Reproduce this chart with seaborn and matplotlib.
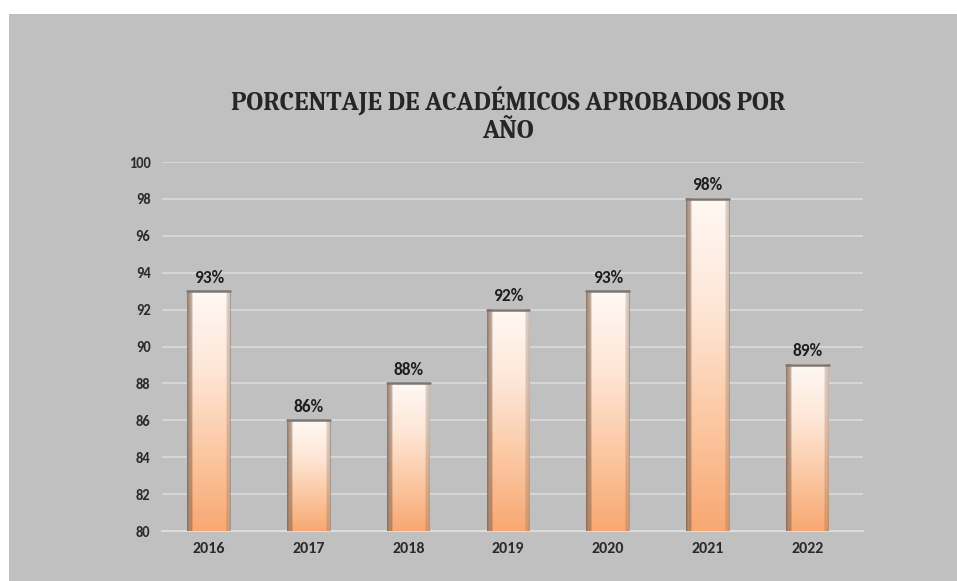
# gráfico de barras: porcentaje de académicos aprobados por año
import numpy as np
import pandas as pd
import matplotlib
matplotlib.use('Agg')
import matplotlib.pyplot as plt
import seaborn as sns

# datos
anios = ['2016', '2017', '2018', '2019', '2020', '2021', '2022']
porcentajes = [93, 86, 88, 92, 93, 98, 89]
etiquetas = ['93%', '86%', '88%', '92%', '93%', '98%', '89%']
y_ticks = [80, 82, 84, 86, 88, 90, 92, 94, 96, 98, 100]

df = pd.DataFrame({'anio': anios, 'pct': porcentajes})

sns.set_style('white')
fondo = '#c0c0c0'
y_min, y_max = 80, 100

fig = plt.figure(figsize=(9.57, 5.81), dpi=100, facecolor='white')
# recuadro gris del área del gráfico (margen blanco arriba e izquierda)
fig.patches.append(plt.Rectangle((9 / 957, 0), 1, 1 - 14 / 581,
                                 transform=fig.transFigure, facecolor=fondo,
                                 edgecolor='none', zorder=-10))

ax = fig.add_axes([0.169, 0.086, 0.733, 0.635])
ax.set_facecolor(fondo)

sns.barplot(data=df, x='anio', y='pct', ax=ax, width=0.43,
            color='#f7b07f', edgecolor='none', linewidth=0, zorder=3)

# degradado blanco -> naranja dentro de cada barra
grad = np.linspace(0, 1, 256).reshape(-1, 1)
cmap = matplotlib.colors.LinearSegmentedColormap.from_list(
    'naranja', ['#f8a872', '#fcc8a3', '#fee6d6', '#fff8f4'])
borde = np.linspace(0, 1, 64).reshape(1, -1)
cmap_borde = matplotlib.colors.LinearSegmentedColormap.from_list(
    'borde', ['#6e5a4c', '#b08a70', '#00000000'])
for p in ax.patches:
    x0 = p.get_x()
    w, h = p.get_width(), p.get_height()
    ax.imshow(grad, extent=[x0, x0 + w, y_min, h], origin='lower',
              aspect='auto', cmap=cmap, zorder=3.5)
    # sombra lateral izquierda y derecha
    ax.imshow(borde, extent=[x0, x0 + w * 0.12, y_min, h], aspect='auto',
              cmap=cmap_borde, zorder=3.6, alpha=0.8)
    ax.imshow(borde[:, ::-1], extent=[x0 + w * 0.9, x0 + w, y_min, h],
              aspect='auto', cmap=cmap_borde, zorder=3.6, alpha=0.4)
    # borde superior gris
    ax.plot([x0, x0 + w], [h, h], color='#7d7570', lw=1.8, zorder=4)

ax.set_xlim(-0.472, 6.561)
ax.set_ylim(y_min, y_max)
ax.set_yticks(y_ticks)

# etiquetas sobre las barras
for i, (v, t) in enumerate(zip(porcentajes, etiquetas)):
    ax.text(i, v + 0.3, t, ha='center', va='bottom', fontsize=12.5,
            fontweight='bold', color='#1e1e1e', family='Carlito', zorder=5)

# cuadrícula
ax.grid(axis='y', color='#d9d9d9', linewidth=1.3, zorder=0)
ax.set_axisbelow(True)
for s in ['top', 'right', 'left']:
    ax.spines[s].set_visible(False)
ax.spines['bottom'].set_color('#dcdcdc')
ax.spines['bottom'].set_linewidth(1.5)

ax.set_xlabel('')
ax.set_ylabel('')
for lbl in ax.get_xticklabels():
    lbl.set_fontsize(11.5)
for lbl in ax.get_yticklabels():
    lbl.set_fontsize(10.5)
for lbl in ax.get_xticklabels() + ax.get_yticklabels():
    lbl.set_fontweight('bold')
    lbl.set_family('Carlito')
    lbl.set_color('#2a2a2a')
ax.tick_params(axis='x', length=0, pad=8)
ax.tick_params(axis='y', length=0, pad=8)

fig.text(0.531, 0.802, 'PORCENTAJE DE ACADÉMICOS APROBADOS POR\nAÑO',
         ha='center', va='center', fontsize=18.7, fontweight='bold',
         family='Caladea', color='#262626', linespacing=1.17)

fig.savefig('out.png', dpi=100, facecolor='white')
